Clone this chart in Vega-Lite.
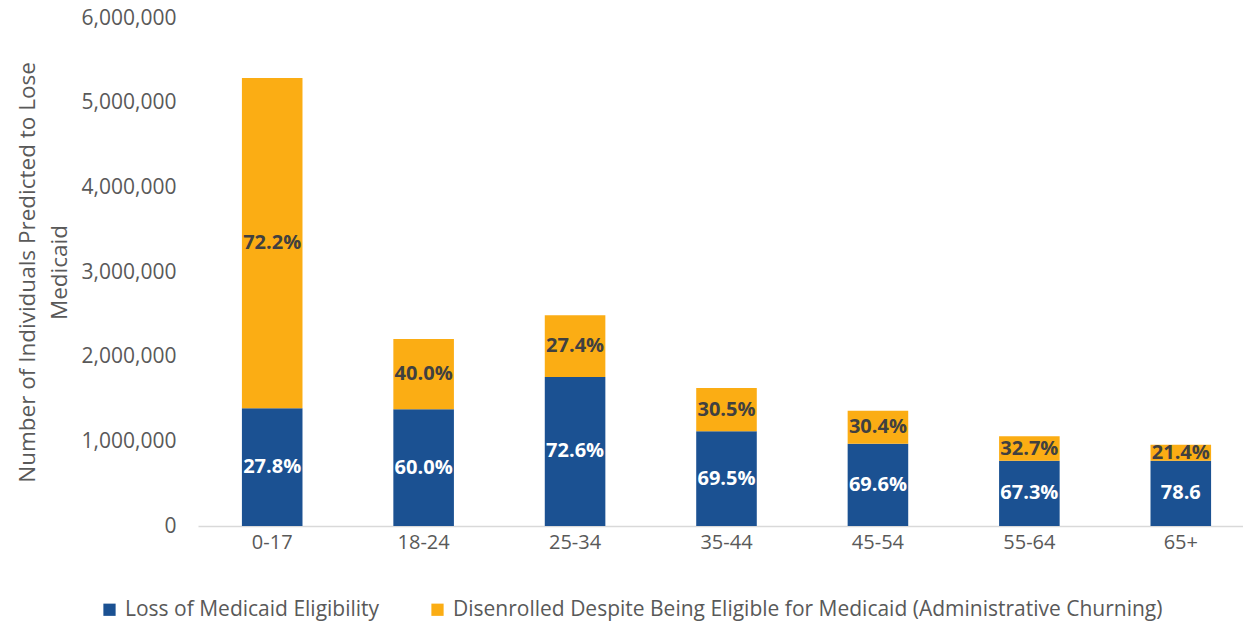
{
  "$schema": "https://vega.github.io/schema/vega-lite/v6.json",
  "width": 1057,
  "height": 508,
  "autosize": {"type": "none"},
  "padding": {"left": 198, "top": 18, "right": 0, "bottom": 98},
  "background": "white",
  "config": {
    "view": {"stroke": null},
    "font": "Open Sans"
  },
  "data": {
    "values": [
      {"age": "0-17", "series": "Loss of Medicaid Eligibility", "value": 1390000, "label": "27.8%"},
      {"age": "0-17", "series": "Disenrolled Despite Being Eligible for Medicaid (Administrative Churning)", "value": 3900000, "label": "72.2%"},
      {"age": "18-24", "series": "Loss of Medicaid Eligibility", "value": 1380000, "label": "60.0%"},
      {"age": "18-24", "series": "Disenrolled Despite Being Eligible for Medicaid (Administrative Churning)", "value": 830000, "label": "40.0%"},
      {"age": "25-34", "series": "Loss of Medicaid Eligibility", "value": 1760000, "label": "72.6%"},
      {"age": "25-34", "series": "Disenrolled Despite Being Eligible for Medicaid (Administrative Churning)", "value": 730000, "label": "27.4%"},
      {"age": "35-44", "series": "Loss of Medicaid Eligibility", "value": 1120000, "label": "69.5%"},
      {"age": "35-44", "series": "Disenrolled Despite Being Eligible for Medicaid (Administrative Churning)", "value": 510000, "label": "30.5%"},
      {"age": "45-54", "series": "Loss of Medicaid Eligibility", "value": 970000, "label": "69.6%"},
      {"age": "45-54", "series": "Disenrolled Despite Being Eligible for Medicaid (Administrative Churning)", "value": 390000, "label": "30.4%"},
      {"age": "55-64", "series": "Loss of Medicaid Eligibility", "value": 770000, "label": "67.3%"},
      {"age": "55-64", "series": "Disenrolled Despite Being Eligible for Medicaid (Administrative Churning)", "value": 290000, "label": "32.7%"},
      {"age": "65+", "series": "Loss of Medicaid Eligibility", "value": 770000, "label": "78.6"},
      {"age": "65+", "series": "Disenrolled Despite Being Eligible for Medicaid (Administrative Churning)", "value": 190000, "label": "21.4%"}
    ]
  },
  "transform": [
    {"stack": "value", "groupby": ["age"], "sort": [{"field": "series", "order": "descending"}], "as": ["v0", "v1"]}
  ],
  "encoding": {
    "x": {
      "field": "age", "type": "nominal", "sort": null,
      "scale": {"paddingInner": 0.6, "paddingOuter": 0.29},
      "axis": {
        "title": null, "labelAngle": 0, "ticks": false, "domainColor": "#d9d9d9", "domainWidth": 1.5,
        "labelFontSize": 20, "labelColor": "#595959", "labelPadding": 6
      }
    }
  },
  "layer": [
    {
      "mark": {"type": "bar"},
      "encoding": {
        "y": {
          "field": "v0", "type": "quantitative",
          "scale": {"domain": [0, 6000000]},
          "axis": {
            "title": ["Number of Individuals Predicted to Lose", "Medicaid"],
            "titleFontSize": 22.5, "titleFontWeight": "normal", "titleColor": "#595959",
            "titlePadding": 10, "titleLineHeight": 32,
            "values": [0, 1000000, 2000000, 3000000, 4000000, 5000000, 6000000],
            "format": ",d", "grid": false, "ticks": false, "domain": false,
            "labelFontSize": 21, "labelColor": "#595959", "labelPadding": 22
          }
        },
        "y2": {"field": "v1"},
        "color": {
          "field": "series", "type": "nominal",
          "scale": {
            "domain": ["Loss of Medicaid Eligibility", "Disenrolled Despite Being Eligible for Medicaid (Administrative Churning)"],
            "range": ["#1b5192", "#fbad14"]
          },
          "legend": {
            "title": null, "orient": "none", "direction": "horizontal",
            "legendX": -99, "legendY": 581,
            "symbolType": "square", "symbolSize": 150, "symbolStrokeWidth": 0,
            "labelFontSize": 21, "labelColor": "#595959", "labelLimit": 900,
            "columnPadding": 47, "labelOffset": 5
          }
        }
      }
    },
    {
      "transform": [
        {"fold": ["v0", "v1"], "as": ["edge", "pos"]}
      ],
      "mark": {"type": "text", "fontWeight": "bold", "fontSize": 20, "baseline": "middle", "align": "center"},
      "encoding": {
        "y": {"aggregate": "mean", "field": "pos", "type": "quantitative"},
        "detail": {"field": "series"},
        "text": {"field": "label"},
        "color": {
          "condition": {"test": "datum.series === 'Loss of Medicaid Eligibility'", "value": "white"},
          "value": "#404040"
        }
      }
    }
  ]
}
